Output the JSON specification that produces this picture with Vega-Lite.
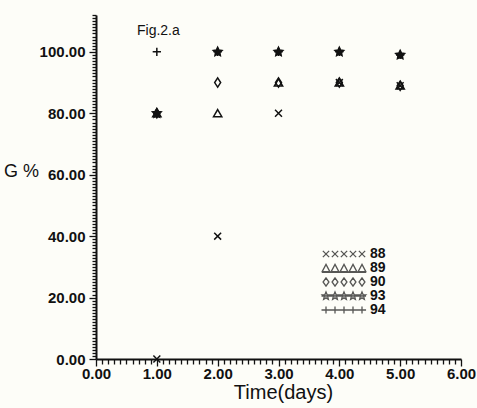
{
  "$schema": "https://vega.github.io/schema/vega-lite/v6.json",
  "width": 365,
  "height": 344,
  "autosize": {"type": "none"},
  "padding": {"left": 96, "top": 15, "right": 16, "bottom": 49},
  "background": "#fdfdf8",
  "title": {
    "text": "Fig.2.a",
    "anchor": "start",
    "frame": "group",
    "dx": 41,
    "offset": -41,
    "baseline": "alphabetic",
    "font": "Liberation Sans",
    "fontSize": 14,
    "fontWeight": "normal",
    "color": "#111111"
  },
  "config": {
    "view": {"stroke": null},
    "axis": {"grid": false}
  },
  "data": {
    "values": [
      {"day": 1, "series": "88", "G": 0},
      {"day": 1, "series": "89", "G": 80},
      {"day": 1, "series": "90", "G": 80},
      {"day": 1, "series": "93", "G": 80},
      {"day": 1, "series": "94", "G": 100},
      {"day": 2, "series": "88", "G": 40},
      {"day": 2, "series": "89", "G": 80},
      {"day": 2, "series": "90", "G": 90},
      {"day": 2, "series": "94", "G": 100},
      {"day": 2, "series": "93", "G": 100},
      {"day": 3, "series": "88", "G": 80},
      {"day": 3, "series": "89", "G": 90},
      {"day": 3, "series": "90", "G": 90},
      {"day": 3, "series": "94", "G": 100},
      {"day": 3, "series": "93", "G": 100},
      {"day": 4, "series": "88", "G": 90},
      {"day": 4, "series": "89", "G": 90},
      {"day": 4, "series": "90", "G": 90},
      {"day": 4, "series": "94", "G": 100},
      {"day": 4, "series": "93", "G": 100},
      {"day": 5, "series": "88", "G": 89},
      {"day": 5, "series": "89", "G": 89},
      {"day": 5, "series": "90", "G": 89},
      {"day": 5, "series": "94", "G": 99},
      {"day": 5, "series": "93", "G": 99}
    ]
  },
  "layer": [
    {
      "mark": {"type": "point", "filled": true, "size": 85, "stroke": "#111111", "strokeWidth": 1.5, "opacity": 1},
      "encoding": {
        "x": {
          "field": "day",
          "type": "quantitative",
          "scale": {"domain": [0, 6], "nice": false, "zero": false},
          "axis": {
            "title": "Time(days)",
            "titleFont": "Liberation Sans",
            "titleFontSize": 20,
            "titleFontWeight": "normal",
            "titleColor": "#111111",
            "titleX": 187,
            "titleY": 39,
            "titleBaseline": "alphabetic",
            "tickCount": 60,
            "labelExpr": "abs(datum.value - round(datum.value)) < 1e-6 ? format(datum.value, '.2f') : ''",
            "labelOverlap": false,
            "labelFlush": false,
            "labelFont": "Liberation Sans",
            "labelFontSize": 15,
            "labelFontWeight": "bold",
            "labelColor": "#111111",
            "labelPadding": 0,
            "tickSize": {"condition": {"test": "abs(datum.value - round(datum.value)) < 1e-6", "value": 7}, "value": 5},
            "tickWidth": 1.3,
            "tickColor": "#111111",
            "domainColor": "#111111",
            "domainWidth": 2
          }
        },
        "y": {
          "field": "G",
          "type": "quantitative",
          "scale": {"domain": [0, 112], "nice": false},
          "axis": {
            "title": "G %",
            "titleFont": "Liberation Sans",
            "titleFontSize": 18,
            "titleFontWeight": "normal",
            "titleColor": "#111111",
            "titleAngle": 0,
            "titleX": -75,
            "titleY": 156,
            "titleAlign": "center",
            "titleBaseline": "middle",
            "tickCount": 112,
            "labelExpr": "datum.value % 20 === 0 ? format(datum.value, '.2f') : ''",
            "labelOverlap": false,
            "labelFlush": false,
            "labelFont": "Liberation Sans",
            "labelFontSize": 15,
            "labelFontWeight": "bold",
            "labelColor": "#111111",
            "labelPadding": 4,
            "tickSize": {"condition": {"test": "datum.value % 20 === 0", "value": 7}, "value": 4},
            "tickWidth": 1.3,
            "tickColor": "#111111",
            "domainColor": "#111111",
            "domainWidth": 2
          }
        },
        "shape": {
          "field": "series",
          "type": "nominal",
          "scale": {
            "domain": ["88", "89", "90", "93", "94"],
            "range": [
              "M-0.75,-0.75L0.75,0.75M-0.75,0.75L0.75,-0.75",
              "M0,-0.8L0.9,0.75L-0.9,0.75Z",
              "M0,-1L0.65,0L0,1L-0.65,0Z",
              "M0,-1L0.294,-0.405L0.951,-0.309L0.476,0.155L0.588,0.809L0,0.5L-0.588,0.809L-0.476,0.155L-0.951,-0.309L-0.294,-0.405Z",
              "M-0.9,0L0.9,0M0,-0.9L0,0.9"
            ]
          },
          "legend": null
        },
        "fill": {
          "field": "series",
          "type": "nominal",
          "scale": {
            "domain": ["88", "89", "90", "93", "94"],
            "range": ["transparent", "transparent", "transparent", "#111111", "transparent"]
          },
          "legend": null
        }
      }
    },
    {
      "transform": [{"filter": "false"}],
      "mark": {"type": "point", "filled": false, "size": 81, "stroke": "#111111", "strokeWidth": 1.3},
      "encoding": {
        "shape": {
          "field": "series",
          "type": "nominal",
          "scale": {
            "domain": ["88", "89", "90", "93", "94"],
            "range": [
              "M-8.7,-0.7L-7.3,0.7M-8.7,0.7L-7.3,-0.7M-6.7,-0.7L-5.3,0.7M-6.7,0.7L-5.3,-0.7M-4.7,-0.7L-3.3,0.7M-4.7,0.7L-3.3,-0.7M-2.7,-0.7L-1.3,0.7M-2.7,0.7L-1.3,-0.7M-0.7,-0.7L0.7,0.7M-0.7,0.7L0.7,-0.7",
              "M-8,-0.8L-7.15,0.8L-8.85,0.8ZM-6,-0.8L-5.15,0.8L-6.85,0.8ZM-4,-0.8L-3.15,0.8L-4.85,0.8ZM-2,-0.8L-1.15,0.8L-2.85,0.8ZM0,-0.8L0.85,0.8L-0.85,0.8ZM-8.9,0.95L0.9,0.95",
              "M-8,-0.9L-7.35,0L-8,0.9L-8.65,0ZM-6,-0.9L-5.35,0L-6,0.9L-6.65,0ZM-4,-0.9L-3.35,0L-4,0.9L-4.65,0ZM-2,-0.9L-1.35,0L-2,0.9L-2.65,0ZM0,-0.9L0.65,0L0,0.9L-0.65,0Z",
              "M-8,-0.9L-7.762,-0.328L-7.144,-0.278L-7.615,0.125L-7.471,0.728L-8,0.405L-8.529,0.728L-8.385,0.125L-8.856,-0.278L-8.238,-0.328ZM-6,-0.9L-5.762,-0.328L-5.144,-0.278L-5.615,0.125L-5.471,0.728L-6,0.405L-6.529,0.728L-6.385,0.125L-6.856,-0.278L-6.238,-0.328ZM-4,-0.9L-3.762,-0.328L-3.144,-0.278L-3.615,0.125L-3.471,0.728L-4,0.405L-4.529,0.728L-4.385,0.125L-4.856,-0.278L-4.238,-0.328ZM-2,-0.9L-1.762,-0.328L-1.144,-0.278L-1.615,0.125L-1.471,0.728L-2,0.405L-2.529,0.728L-2.385,0.125L-2.856,-0.278L-2.238,-0.328ZM0,-0.9L0.238,-0.328L0.856,-0.278L0.385,0.125L0.529,0.728L0,0.405L-0.529,0.728L-0.385,0.125L-0.856,-0.278L-0.238,-0.328ZM-9,0L0.9,0",
              "M-9,0L0.9,0M-8,-0.8L-8,0.8M-6,-0.8L-6,0.8M-4,-0.8L-4,0.8M-2,-0.8L-2,0.8M0,-0.8L0,0.8"
            ]
          },
          "legend": {
            "title": null,
            "orient": "none",
            "legendX": 259,
            "legendY": 232,
            "direction": "vertical",
            "padding": 0,
            "symbolOffset": 0,
            "symbolSize": 81,
            "symbolStrokeWidth": 1.3,
            "symbolStrokeColor": "#111111",
            "symbolFillColor": "transparent",
            "labelFont": "Liberation Sans",
            "labelFontSize": 14,
            "labelFontWeight": "bold",
            "labelColor": "#111111",
            "labelOffset": 1,
            "rowPadding": 0
          }
        }
      }
    }
  ],
  "resolve": {"scale": {"shape": "independent"}}
}
